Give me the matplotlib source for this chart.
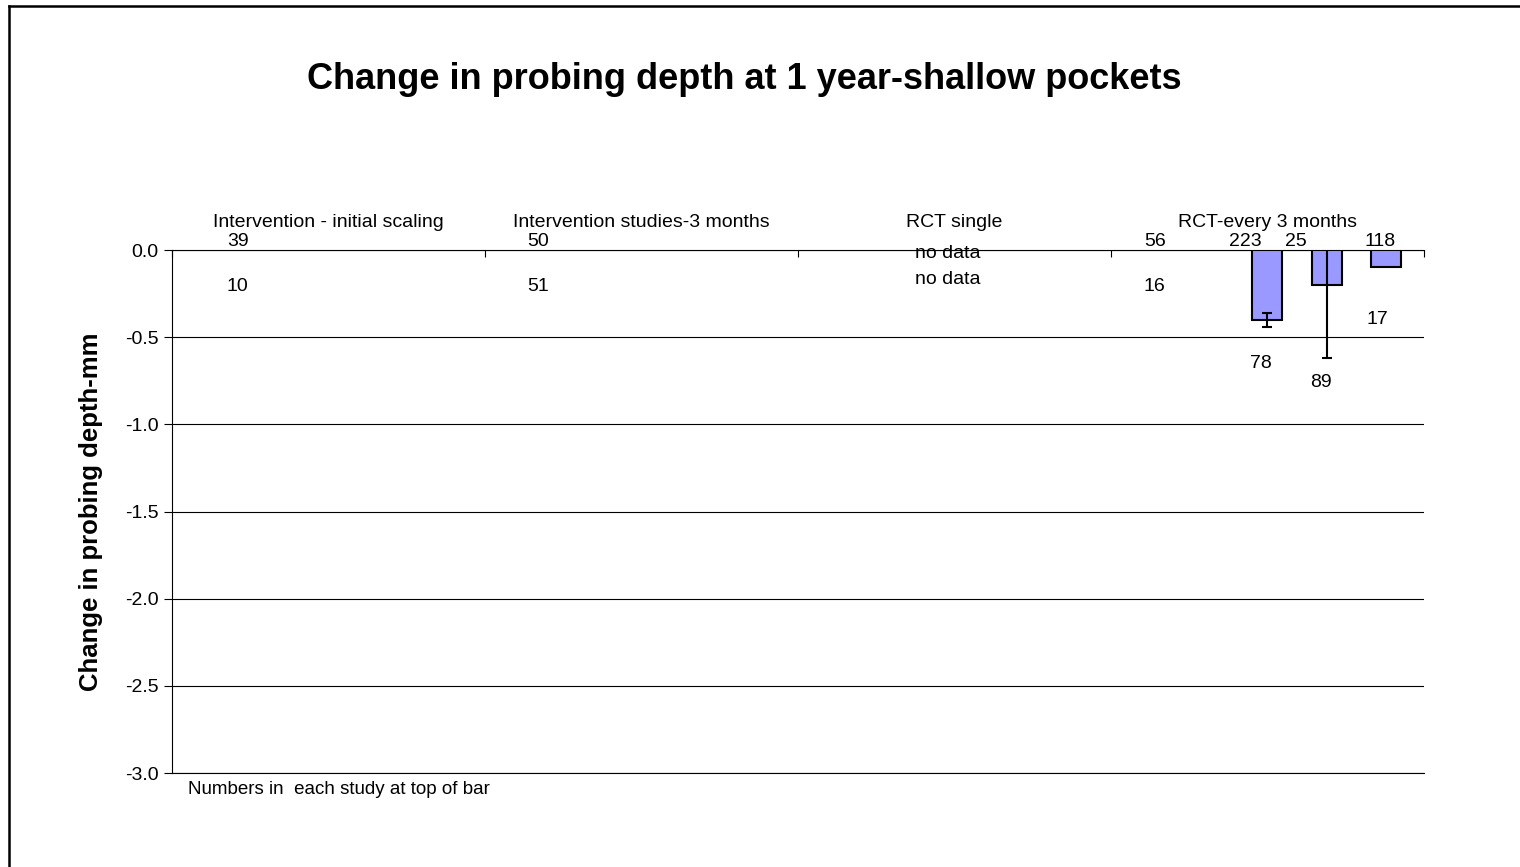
import matplotlib.pyplot as plt
from matplotlib.lines import Line2D

plt.rcParams['font.family'] = ['Liberation Sans', 'DejaVu Sans']

# Категории (подписи сверху)
categories = ['Intervention - initial scaling', 'Intervention studies-3 months',
              'RCT single', 'RCT-every 3 months']

# Столбцы (только в последней категории)
bar_values = [-0.4, -0.2, -0.1]
bar_errors = [0.04, 0.42, 0.0]

# Подписи с числом участников
count_labels = ['39', '10', '50', '51', 'no data', 'no data',
                '56', '16', '223', '25', '118', '78', '89', '17']
count_x = [-0.29, -0.29, 0.67, 0.67, 1.98, 1.98,
           2.64, 2.64, 2.93, 3.09, 3.36, 2.98, 3.17, 3.35]
count_y = [0.05, -0.21, 0.05, -0.21, -0.02, -0.17,
           0.05, -0.21, 0.05, 0.05, 0.05, -0.65, -0.76, -0.40]

fig = plt.figure(figsize=(15.2, 8.67), dpi=100)
ax = fig.add_axes([0.1132, 0.1084, 0.8236, 0.6032])

# Рамка слева и сверху, как на исходнике
x0, y0 = 9 / 1520, 1 - 6 / 867
fig.add_artist(Line2D([x0, x0], [0, y0], color='black', linewidth=1.8, transform=fig.transFigure))
fig.add_artist(Line2D([x0, 1], [y0, y0], color='black', linewidth=1.8, transform=fig.transFigure))

# Позиции столбцов внутри последней категории
bar_x = [3 + 0.19 * i for i in range(len(bar_values))]
ax.bar(bar_x, bar_values, width=0.096, color='#9999FF', edgecolor='black',
       linewidth=1.5, zorder=3)
ax.errorbar(bar_x[:2], bar_values[:2], yerr=bar_errors[:2], fmt='none',
            ecolor='black', elinewidth=1.5, capsize=3.5, capthick=1.5, zorder=4)

for t, x, y in zip(count_labels, count_x, count_y):
    ax.text(x, y, t, ha='center', va='center', fontsize=14)

ax.set_xlim(-0.5, 3.5)
ax.set_ylim(-3.0, 0.0)
ax.set_yticks([0, -0.5, -1.0, -1.5, -2.0, -2.5, -3.0])
ax.set_yticklabels(['0.0', '-0.5', '-1.0', '-1.5', '-2.0', '-2.5', '-3.0'])
ax.yaxis.grid(True, color='black', linewidth=0.8)
ax.set_axisbelow(True)

ax.xaxis.tick_top()
ax.set_xticks([-0.5, 0.5, 1.5, 2.5, 3.5])
ax.set_xticklabels([])
ax.set_xticks(range(len(categories)), minor=True)
ax.set_xticklabels(categories, minor=True, fontsize=14)
ax.tick_params(axis='x', which='major', direction='in', length=5, width=0.8)
ax.tick_params(axis='x', which='minor', length=0, pad=14)
ax.tick_params(axis='y', direction='out', length=6, width=0.8, labelsize=14)

ax.spines['right'].set_visible(False)
for s in ['left', 'top', 'bottom']:
    ax.spines[s].set_linewidth(0.8)

ax.set_ylabel('Change in probing depth-mm', fontsize=18.5, fontweight='bold', labelpad=16)

fig.text(0.49, 0.908, 'Change in probing depth at 1 year-shallow pockets',
         ha='center', va='center', fontsize=26, fontweight='bold')
fig.text(188 / 1520, 1 - 790 / 867, 'Numbers in  each study at top of bar',
         ha='left', va='center', fontsize=13.5)

plt.savefig('out.png', dpi=100)
